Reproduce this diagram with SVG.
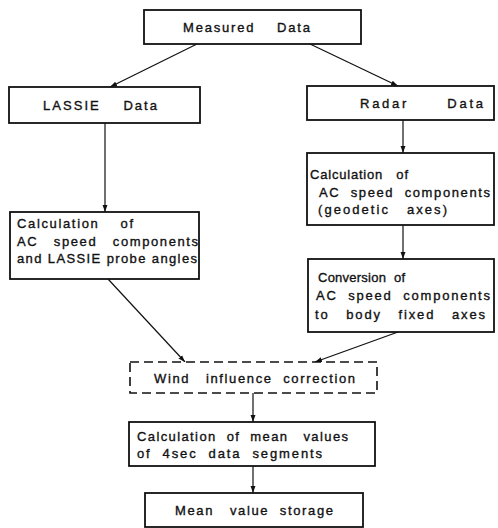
<svg xmlns="http://www.w3.org/2000/svg" width="498" height="528" viewBox="0 0 498 528">
<style>
.box{fill:#fff;stroke:#111;stroke-width:1.8}
.dash{fill:#fff;stroke:#111;stroke-width:1.6;stroke-dasharray:9,5}
.t{font-family:"Liberation Sans",Arial,sans-serif;font-size:13px;fill:#111;stroke:#111;stroke-width:0.35;white-space:pre}
.ln{fill:none;stroke:#111;stroke-width:1.2;marker-end:url(#ah)}
</style>
<defs>
<marker id="ah" viewBox="0 0 10 10" refX="10" refY="5" markerWidth="7" markerHeight="7" orient="auto" markerUnits="userSpaceOnUse">
<path d="M0,1.5 L10,5 L0,8.5 z" fill="#111"/>
</marker>
</defs>
<rect width="498" height="528" fill="#fff"/>
<g id="connectors">
<line class="ln" x1="197" y1="44" x2="110" y2="87"/>
<line class="ln" x1="310" y1="44" x2="398" y2="86"/>
<line class="ln" x1="105" y1="123" x2="105" y2="212"/>
<line class="ln" x1="403" y1="120" x2="403" y2="153"/>
<line class="ln" x1="403" y1="225" x2="403" y2="259"/>
<line class="ln" x1="108" y1="279" x2="185" y2="362"/>
<line class="ln" x1="398" y1="332" x2="315" y2="362"/>
<line class="ln" x1="253" y1="393" x2="253" y2="422"/>
<line class="ln" x1="253" y1="466" x2="253" y2="493"/>
</g>
<g id="measured">
<rect class="box" x="144" y="10" width="217" height="34"/>
<text class="t" x="183" y="32" textLength="127" lengthAdjust="spacing">Measured    Data</text>
</g>
<g id="lassie">
<rect class="box" x="9" y="87" width="191" height="36"/>
<text class="t" x="43" y="110" textLength="114" lengthAdjust="spacing">LASSIE    Data</text>
</g>
<g id="radar">
<rect class="box" x="307" y="86" width="187" height="34"/>
<text class="t" x="360" y="108" textLength="123" lengthAdjust="spacing">Radar      Data</text>
</g>
<g id="calc-radar">
<rect class="box" x="307" y="153" width="187" height="72"/>
<text class="t" x="310" y="179" textLength="98" lengthAdjust="spacing">Calculation   of</text>
<text class="t" x="319" y="197" textLength="171" lengthAdjust="spacing">AC  speed  components</text>
<text class="t" x="318" y="214" textLength="129" lengthAdjust="spacing">(geodetic   axes)</text>
</g>
<g id="calc-lassie">
<rect class="box" x="10" y="212" width="189" height="67"/>
<text class="t" x="17" y="228" textLength="116" lengthAdjust="spacing">Calculation    of</text>
<text class="t" x="17" y="246" textLength="181" lengthAdjust="spacing">AC   speed   components</text>
<text class="t" x="17" y="263" textLength="180" lengthAdjust="spacing">and LASSIE probe angles</text>
</g>
<g id="conversion">
<rect class="box" x="308" y="259" width="186" height="73"/>
<text class="t" x="318" y="282" textLength="87" lengthAdjust="spacing">Conversion  of</text>
<text class="t" x="316" y="300" textLength="174" lengthAdjust="spacing">AC  speed  components</text>
<text class="t" x="315" y="319" textLength="170" lengthAdjust="spacing">to   body   fixed   axes</text>
</g>
<g id="wind">
<rect class="dash" x="130" y="362" width="247" height="31"/>
<text class="t" x="154" y="383" textLength="201" lengthAdjust="spacing">Wind   influence  correction</text>
</g>
<g id="calc-mean">
<rect class="box" x="129" y="422" width="246" height="44"/>
<text class="t" x="137" y="441" textLength="211" lengthAdjust="spacing">Calculation  of  mean   values</text>
<text class="t" x="137" y="458" textLength="185" lengthAdjust="spacing">of  4sec  data  segments</text>
</g>
<g id="storage">
<rect class="box" x="145" y="493" width="218" height="34"/>
<text class="t" x="175" y="515" textLength="158" lengthAdjust="spacing">Mean   value  storage</text>
</g>
</svg>
